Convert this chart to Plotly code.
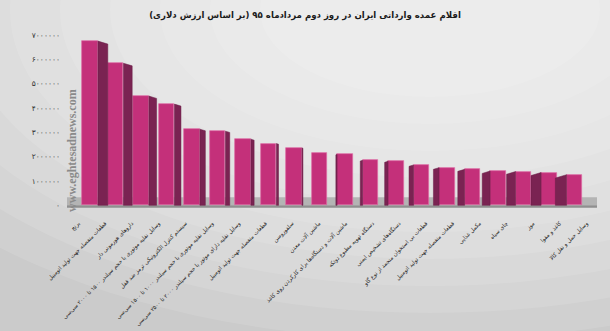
import plotly.graph_objects as go

# Top import items (USD value)
categories = [
    "برنج",
    "قطعات منفصله جهت تولید اتومبیل",
    "داروهای هورمونی دار",
    "وسایل نقلیه موتوری با حجم سیلندر ۱۵۰۰ تا ۲۰۰۰ سی‌سی",
    "سیستم کنترل الکترونیکی ترمز ضد قفل",
    "وسایل نقلیه موتوری با حجم سیلندر ۱۰۰۰ تا ۱۵۰۰ سی‌سی",
    "وسایل نقلیه دارای موتور با حجم سیلندر ۲۰۰۰ تا ۲۵۰۰ سی‌سی",
    "قطعات منفصله جهت تولید اتومبیل",
    "سلفوروسن",
    "ماشین آلات معدن",
    "ماشین آلات و دستگاه‌ها برای کارکردن روی کاغذ",
    "دستگاه تهویه مطبوع دوتکه",
    "دستگاه‌های تشخیص ایمنی",
    "قطعات بی استخوان منجمد از نوع گاو",
    "قطعات منفصله جهت تولید اتومبیل",
    "مکمل غذایی",
    "چای سیاه",
    "موز",
    "کاغذ و مقوا",
    "وسایل حمل و نقل کالا",
]
values = [6750000, 5840000, 4490000, 4160000, 3130000, 3050000, 2720000,
          2540000, 2360000, 2150000, 2090000, 1850000, 1810000, 1660000,
          1550000, 1480000, 1410000, 1390000, 1350000, 1260000]
tick_values = [0, 1000000, 2000000, 3000000, 4000000, 5000000, 6000000, 7000000]
tick_labels = ["۰", "۱۰۰۰۰۰۰", "۲۰۰۰۰۰۰", "۳۰۰۰۰۰۰", "۴۰۰۰۰۰۰",
               "۵۰۰۰۰۰۰", "۶۰۰۰۰۰۰", "۷۰۰۰۰۰۰"]
title = "اقلام عمده وارداتی ایران در روز دوم مردادماه ۹۵ (بر اساس ارزش دلاری)"

W, H = 610, 331
ML, MR, MT, MB = 67, 13, 35, 122
PX_X = 25.5                      # pixels per category unit
PX_Y = 24.3 / 1e6                # pixels per dollar
x_range = [-(90 - ML) / PX_X, -(90 - ML) / PX_X + (W - ML - MR) / PX_X]
y_range = [-0.15e6, 7.0e6]

n = len(values)
xs = list(range(n))
front_half = 0.31
vanish = 8.9

# side faces of the pseudo-3D columns
side_x, side_y = [], []
for i, v in zip(xs, values):
    s = 0.0436 * abs(i - vanish)
    if s < 0.02:
        continue
    d = 0.3 * s * PX_X / PX_Y
    if i < vanish:
        xf, xb = i + front_half, i + front_half + s
    else:
        xf, xb = i - front_half, i - front_half - s
    side_x += [xf, xf, xb, xb, xf, None]
    side_y += [0, v, v - d, 0, 0, None]

fig = go.Figure()
fig.add_trace(go.Scatter(
    x=side_x, y=side_y, mode="lines", fill="toself",
    fillcolor="#7a2352", line=dict(color="#6a1c46", width=0.5),
    hoverinfo="skip", showlegend=False,
))
fig.add_trace(go.Bar(
    x=xs, y=values, width=2 * front_half,
    marker=dict(color="#c4307a", line=dict(color="#dc6aa4", width=0.7)),
    showlegend=False,
))

# label anchors follow the perspective of the floor
label_pos = [(77 + 26.74 * i - 90) / PX_X + 0.05 for i in range(n)]


def px2paper(px, py):
    return (px - ML) / (W - ML - MR), (H - MB - py) / (H - MT - MB)


shapes = []
# soft light backdrop
for k in range(10):
    rx, ry = 620 - k * 50, 330 - k * 27
    cx, cy = 430, 10
    x0, y1 = px2paper(cx - rx, cy - ry)
    x1, y0 = px2paper(cx + rx, cy + ry)
    shapes.append(dict(type="circle", xref="paper", yref="paper",
                       x0=x0, x1=x1, y0=y0, y1=y1, layer="below",
                       fillcolor="white", opacity=0.11, line=dict(width=0)))
# floor
shapes.append(dict(type="rect", xref="x", yref="y", x0=x_range[0],
                   x1=x_range[1], y0=0, y1=0.33e6, layer="below",
                   fillcolor="#b4b4b4", line=dict(width=0)))
shapes.append(dict(type="rect", xref="x", yref="y", x0=x_range[0],
                   x1=x_range[1], y0=-0.1e6, y1=0, layer="below",
                   fillcolor="#8f8f8f", line=dict(width=0)))

wm_x, wm_y = px2paper(72, 151)

fig.update_layout(
    width=W, height=H,
    margin=dict(l=ML, r=MR, t=MT, b=MB, pad=0, autoexpand=False),
    paper_bgcolor="#cbcbcb", plot_bgcolor="rgba(0,0,0,0)",
    shapes=shapes,
    title=dict(text=title, x=0.5, xanchor="center", y=0.955, yanchor="middle",
               font=dict(family="DejaVu Sans", size=8.6, color="#1a1a1a",
                         weight="bold")),
    xaxis=dict(range=x_range, tickmode="array", tickvals=label_pos,
               ticktext=categories, tickangle=-45, showgrid=False,
               zeroline=False, showline=False, ticks="", automargin=False,
               tickfont=dict(family="DejaVu Sans", size=5.6, color="#222222"),
               ticklabelstandoff=9),
    yaxis=dict(range=y_range, tickmode="array", tickvals=tick_values,
               ticktext=tick_labels, showgrid=False, zeroline=False,
               showline=False, ticks="", ticklabelstandoff=6, automargin=False,
               tickfont=dict(family="DejaVu Sans", size=7.5, color="#333333")),
    annotations=[dict(text="www.eghtesadnews.com", xref="paper", yref="paper",
                      x=wm_x, y=wm_y, xanchor="center", yanchor="middle",
                      textangle=-90, showarrow=False,
                      font=dict(family="Liberation Serif", size=12,
                                color="#8a8a8a", weight="bold"))],
    bargap=0,
)

fig.write_html("out.html")
